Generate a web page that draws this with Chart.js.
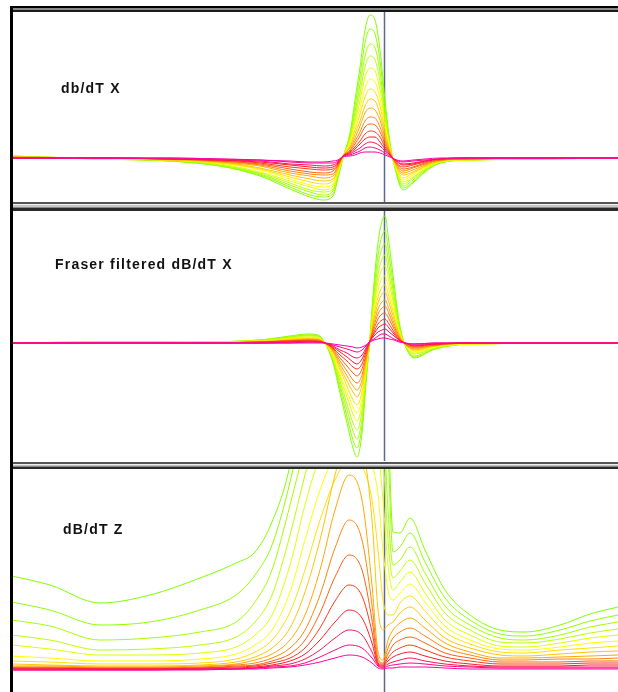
<!DOCTYPE html>
<html>
<head>
<meta charset="utf-8">
<script src="https://cdn.jsdelivr.net/npm/chart.js@4.4.0/dist/chart.umd.min.js"></script>
<style>
  html, body { margin: 0; padding: 0; background: #fff; }
  body { width: 618px; height: 692px; position: relative; overflow: hidden; font-family: Arial, "Liberation Sans", sans-serif; }
  canvas { position: absolute; left: 12px; }
  .bar { position: absolute; left: 11px; width: 607px; z-index: 5; }
  .left { position: absolute; left: 10px; top: 6px; width: 3px; height: 686px; background: #000; z-index: 6; }
  .label { position: absolute; font-weight: bold; font-size: 14px; letter-spacing: 1.2px; color: #111; z-index: 4; white-space: nowrap; }
</style>
</head>
<body>
<div class="bar" style="top:6px;height:6px;background:linear-gradient(#000 0 2px,#8a8a8a 2px 4px,#1a1a1a 4px 6px);"></div>
<div class="bar" style="top:202px;height:9px;background:linear-gradient(#555 0 2px,#f0f0f0 2px 3px,#c8c8c8 3px 5px,#888 5px 6px,#2a2a2a 6px 9px);"></div>
<div class="bar" style="top:462px;height:7px;background:linear-gradient(#555 0 2px,#eee 2px 3px,#c0c0c0 3px 4px,#888 4px 5px,#2a2a2a 5px 7px);"></div>
<div class="left"></div>

<canvas id="panelX" width="606" height="191" style="top:12px"></canvas>
<canvas id="panelF" width="606" height="250" style="top:211px"></canvas>
<canvas id="panelZ" width="606" height="223" style="top:469px"></canvas>

<div class="label" style="left:61px;top:80px">db/dT X</div>
<div class="label" style="left:55px;top:256px">Fraser filtered dB/dT X</div>
<div class="label" style="left:63px;top:521px">dB/dT Z</div>

<script>
// stations along the line (fiducials), shared per panel
const stationsX = [12,100,170,220,260,290,310,323,333,338,343,350,355,360,365,370,375,380,385,390,394,403,413,425,440,470,540,618];
const stationsF = [12,100,200,260,290,308,318,325,333,340,347,353,357,362,366,370,374,378,382,385,389,394,399,405,414,435,470,618];
const stationsZ = [12,50,100,150,200,236,255,272,290,305,320,335,349,362,372,378,383,388,393,400,410,425,445,470,500,525,560,590,618];

// time channels, early (first) to late (last)
const dbdtX = [
  [2,-1,-3,-8,-18,-31,-39,-42,-38,-20,0,25,58,91,128,143,138,108,58,15,-6,-32,-25,-14,-5,-2,-1,0],
  [2,-1,-3,-8,-17,-29,-37,-39,-36,-19,0,23,52,82,115,129,124,97,52,14,-6,-30,-24,-13,-5,-2,-1,0],
  [1,-1,-3,-7,-16,-27,-34,-37,-33,-17,1,21,46,73,102,114,110,86,46,12,-5,-28,-22,-12,-4,-2,-1,0],
  [1,-1,-2,-7,-15,-25,-32,-34,-31,-16,1,19,41,65,91,102,98,77,41,11,-5,-26,-20,-11,-4,-2,-1,0],
  [1,-1,-2,-6,-14,-23,-29,-32,-28,-15,1,17,37,57,81,90,87,68,37,10,-4,-24,-19,-11,-4,-2,0,0],
  [1,-1,-2,-5,-12,-21,-27,-29,-26,-13,1,15,32,50,70,79,76,59,32,9,-4,-22,-17,-10,-3,-1,0,0],
  [1,0,-2,-5,-11,-19,-24,-26,-23,-12,2,13,28,44,61,69,66,52,28,8,-3,-20,-15,-9,-3,-1,0,0],
  [1,0,-2,-4,-10,-17,-21,-23,-21,-11,2,11,24,37,52,59,57,44,24,7,-3,-17,-14,-8,-3,-1,0,0],
  [1,0,-1,-4,-8,-15,-18,-20,-18,-9,2,10,20,32,45,50,48,38,20,6,-3,-15,-12,-7,-2,-1,0,0],
  [0,0,-1,-3,-7,-13,-16,-17,-16,-8,2,8,17,26,37,41,40,31,17,5,-2,-13,-10,-6,-2,-1,0,0],
  [0,0,-1,-3,-6,-11,-14,-15,-13,-7,2,7,14,22,31,34,33,26,14,4,-2,-11,-9,-5,-2,-1,0,0],
  [0,0,-1,-2,-5,-9,-11,-12,-11,-6,2,6,11,17,24,27,26,21,11,4,-2,-9,-7,-4,-1,0,0,0],
  [0,0,-1,-2,-4,-7,-9,-10,-9,-5,2,5,9,14,19,21,21,16,9,3,-1,-7,-6,-3,-1,0,0,0],
  [0,0,-1,-2,-3,-6,-7,-8,-7,-4,2,4,7,10,14,16,15,12,7,3,-1,-6,-5,-3,-1,0,0,0],
  [0,0,0,-1,-2,-4,-5,-5,-5,-3,2,3,5,7,10,11,10,8,5,2,-1,-4,-3,-2,-1,0,0,0],
  [0,0,0,-1,-2,-3,-4,-4,-3,-2,1,2,3,5,6,6,6,5,3,1,-1,-3,-2,-1,0,0,0,0]
];

const fraserX = [
  [0,1,1,3,7,9,8,0,-20,-50,-80,-105,-114,-90,-40,6,60,100,122,127,100,60,22,-2,-15,-6,-1,0],
  [0,1,1,3,6,8,7,0,-18,-46,-74,-97,-105,-83,-37,5,53,88,107,112,88,53,19,-2,-14,-6,-1,0],
  [0,1,1,3,6,8,7,0,-17,-42,-67,-88,-96,-76,-34,5,47,78,95,99,78,47,17,-2,-13,-5,-1,0],
  [0,1,1,2,5,7,6,0,-15,-38,-61,-80,-87,-68,-30,4,41,69,84,88,69,41,15,-2,-11,-5,-1,0],
  [0,0,1,2,5,6,5,0,-14,-34,-54,-71,-78,-61,-27,4,37,61,74,77,61,37,13,-1,-10,-4,-1,0],
  [0,0,1,2,4,5,5,0,-12,-31,-49,-64,-70,-55,-24,3,32,53,65,67,53,32,12,-1,-9,-4,-1,0],
  [0,0,1,2,4,5,4,0,-11,-27,-43,-57,-62,-49,-22,3,28,46,56,58,46,28,10,-1,-8,-3,0,0],
  [0,0,0,1,3,4,4,0,-9,-24,-38,-49,-54,-42,-19,2,24,40,49,51,40,24,9,-1,-7,-3,0,0],
  [0,0,0,1,3,4,3,0,-8,-21,-33,-43,-47,-37,-16,2,20,34,41,43,34,20,7,-1,-6,-2,0,0],
  [0,0,0,1,2,3,3,0,-7,-18,-28,-37,-40,-32,-14,2,17,29,35,37,29,17,6,-1,-5,-2,0,0],
  [0,0,0,1,2,3,2,0,-6,-15,-23,-30,-33,-26,-12,2,14,24,29,30,24,14,5,-1,-4,-2,0,0],
  [0,0,0,1,2,2,2,0,-5,-12,-18,-24,-26,-21,-9,2,11,19,23,24,19,11,4,0,-3,-1,0,0],
  [0,0,0,0,1,2,1,0,-4,-9,-14,-19,-21,-16,-7,2,9,15,18,19,15,9,3,0,-3,-1,0,0],
  [0,0,0,0,1,1,1,0,-3,-7,-10,-14,-15,-12,-5,2,7,11,13,14,11,7,3,0,-2,-1,0,0],
  [0,0,0,0,0,1,1,0,-2,-4,-6,-8,-9,-7,-3,2,4,7,9,9,7,4,2,0,-1,0,0,0],
  [0,0,0,0,0,0,0,0,-1,-2,-3,-4,-5,-4,-2,1,3,4,5,5,4,3,1,0,-1,0,0,0]
];

const dbdtZ = [
  [94,85,67,75,92,107,118,148,205,300,400,480,520,520,500,470,420,260,138,137,152,120,80,55,40,38,45,56,63],
  [68,60,45,48,60,75,95,125,188,260,340,400,430,430,410,380,330,220,118,123,137,108,72,50,36,34,40,49,55],
  [50,44,30,32,38,48,68,100,165,225,290,340,360,355,335,310,260,160,105,110,123,97,64,45,32,30,35,43,48],
  [35,30,20,21,25,33,48,75,135,195,250,290,305,300,285,260,215,130,92,99,110,87,57,40,28,27,31,37,41],
  [25,21,15,15,17,23,35,55,105,165,215,250,262,258,245,220,170,105,80,88,98,77,50,35,24,23,27,32,35],
  [14,12,9,9,11,16,25,40,78,130,180,215,228,222,205,175,120,80,70,77,86,68,44,30,21,20,23,27,29],
  [9,8,6,6,7,11,18,30,58,100,150,190,210,203,170,120,70,55,55,67,74,59,38,26,18,17,20,22,24],
  [6,5,4,4,5,8,13,22,42,78,130,195,240,225,150,60,40,45,48,57,63,50,32,22,15,14,16,18,19],
  [4,4,3,3,4,6,10,16,30,55,100,160,195,170,85,18,10,30,40,47,52,42,27,18,12,12,13,14,15],
  [3,3,2,2,3,5,7,12,22,40,75,122,150,130,65,12,7,22,32,38,42,34,22,15,10,10,11,11,12],
  [2,2,2,2,2,4,5,9,16,30,57,93,115,100,50,9,6,16,25,30,33,27,17,12,8,8,8,9,9],
  [2,2,1,1,2,3,4,7,12,22,42,69,85,74,38,7,5,12,18,22,25,20,13,9,6,6,6,7,7],
  [1,1,1,1,1,2,3,5,9,16,30,48,60,52,27,6,4,9,13,16,18,14,9,6,4,4,4,5,5],
  [1,1,1,1,1,1,2,4,6,11,20,32,40,35,18,5,3,6,8,10,12,9,6,4,3,3,3,3,3],
  [0,0,0,0,1,1,2,3,4,7,13,20,25,22,12,4,2,4,5,6,7,6,4,3,2,2,2,2,2],
  [0,0,0,0,0,1,1,2,3,5,8,12,15,13,7,2,1,2,2,3,3,3,2,1,1,1,1,1,1]
];

const cursorStation = 384;

// colour ramp: early channels green -> yellow -> orange -> red -> magenta
const ramp = [
  [0, [128, 255, 0]],
  [0.18, [175, 255, 0]],
  [0.33, [255, 255, 0]],
  [0.55, [255, 160, 0]],
  [0.78, [255, 30, 30]],
  [1, [255, 0, 170]]
];

function channelColor(i, n) {
  const t = i / (n - 1);
  for (let k = 1; k < ramp.length; k++) {
    if (t <= ramp[k][0]) {
      const [t0, c0] = ramp[k - 1];
      const [t1, c1] = ramp[k];
      const f = (t - t0) / (t1 - t0);
      const c = c0.map((v, j) => Math.round(v + (c1[j] - v) * f));
      return `rgb(${c[0]},${c[1]},${c[2]})`;
    }
  }
  return 'rgb(255,0,170)';
}

const cursorLine = {
  id: 'cursorLine',
  beforeDatasetsDraw(chart) {
    const { ctx, chartArea, scales } = chart;
    const x = Math.round(scales.x.getPixelForValue(cursorStation)) + 0.5;
    ctx.save();
    ctx.strokeStyle = '#5a6898';
    ctx.lineWidth = 1.5;
    ctx.beginPath();
    ctx.moveTo(x, chartArea.top);
    ctx.lineTo(x, chartArea.bottom);
    ctx.stroke();
    ctx.restore();
  }
};

function makePanel(id, stations, channels, yMin, yMax) {
  const n = channels.length;
  const datasets = channels.map((vals, i) => ({
    label: 'Ch ' + (i + 1),
    data: stations.map((x, j) => ({ x: x, y: vals[j] })),
    borderColor: channelColor(i, n),
    borderWidth: 1,
    pointRadius: 0,
    fill: false,
    cubicInterpolationMode: 'monotone',
    order: n - 1 - i
  }));

  return new Chart(document.getElementById(id), {
    type: 'line',
    data: { datasets: datasets },
    options: {
      responsive: false,
      animation: false,
      layout: { padding: 0 },
      plugins: { legend: { display: false }, tooltip: { enabled: false } },
      scales: {
        x: { type: 'linear', min: 12, max: 618, display: false },
        y: { min: yMin, max: yMax, display: false }
      }
    },
    plugins: [cursorLine]
  });
}

makePanel('panelX', stationsX, dbdtX, -45, 146);
makePanel('panelF', stationsF, fraserX, -118, 132);
makePanel('panelZ', stationsZ, dbdtZ, -22, 201);
</script>
</body>
</html>
